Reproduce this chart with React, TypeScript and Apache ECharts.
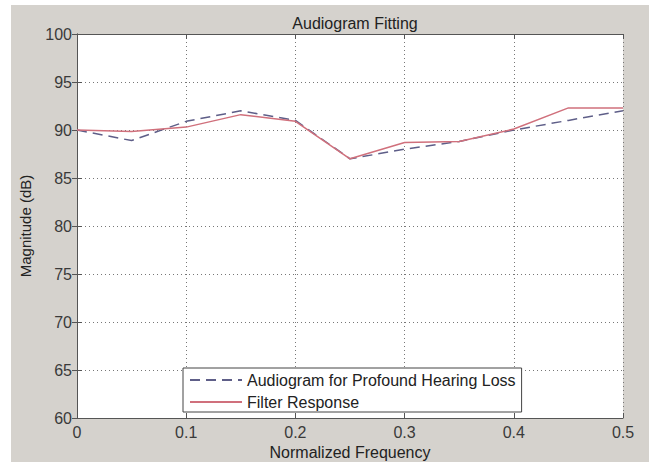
import React, { useEffect, useRef } from "react";
import * as echarts from "echarts";

const freq = [0, 0.05, 0.1, 0.15, 0.2, 0.25, 0.3, 0.35, 0.4, 0.45, 0.5];
const audiogram = [90, 88.9, 90.9, 92.0, 91.0, 87.0, 88.0, 88.8, 90.0, 91.0, 92.0];
const filterResp = [90, 89.85, 90.3, 91.6, 90.9, 87.0, 88.7, 88.8, 90.1, 92.3, 92.3];
const seriesNames = ["Audiogram for Profound Hearing Loss", "Filter Response"];

const FONT = "Liberation Sans";

export default function App() {
  const ref = useRef<HTMLDivElement>(null);
  useEffect(() => {
    if (!ref.current) return;
    const chart = echarts.init(ref.current, undefined, { renderer: "svg" });
    const axisColor = "#555555";
    const labelStyle = { color: "#3a3a3a", fontFamily: FONT, fontSize: 16 };
    const sideAxis = {
      show: true,
      axisLabel: { show: false },
      axisTick: { show: true, inside: true, length: 5, lineStyle: { color: axisColor } },
      axisLine: { show: true, lineStyle: { color: axisColor, width: 1 } },
      splitLine: { show: false },
    };
    chart.setOption({
      animation: false,
      backgroundColor: "#ffffff",
      graphic: [
        {
          type: "rect",
          left: 11,
          top: 5,
          shape: { width: 649 - 11, height: 462 - 5 },
          style: { fill: "#d5d2cd" },
          z: -10,
          silent: true,
        },
      ],
      title: {
        text: "Audiogram Fitting",
        left: 350,
        textAlign: "center",
        top: 10,
        textStyle: { color: "#222222", fontFamily: FONT, fontSize: 16, fontWeight: "normal" },
      },
      grid: {
        left: 77,
        right: 26,
        top: 34,
        bottom: 44,
        show: true,
        backgroundColor: "#ffffff",
        borderWidth: 0,
        containLabel: false,
        outerBoundsMode: "none",
      },
      legend: {
        orient: "vertical",
        left: 183,
        top: 368,
        data: seriesNames,
        backgroundColor: "#ffffff",
        borderColor: "#444444",
        borderWidth: 1,
        padding: [4, 6, 2, 6],
        itemWidth: 52,
        itemHeight: 16,
        itemGap: 6,
        itemStyle: { opacity: 0 },
        textStyle: { color: "#222222", fontFamily: FONT, fontSize: 16 },
      },
      xAxis: [
        {
          type: "value",
          min: 0,
          max: 0.5,
          interval: 0.1,
          name: "Normalized Frequency",
          nameLocation: "middle",
          nameGap: 25,
          nameTextStyle: { color: "#222222", fontFamily: FONT, fontSize: 16 },
          axisLabel: { ...labelStyle, margin: 6 },
          axisTick: { show: true, inside: true, length: 5, lineStyle: { color: axisColor } },
          axisLine: { show: true, onZero: false, lineStyle: { color: axisColor, width: 1 } },
          splitLine: { show: true, lineStyle: { color: "#777777", type: [1, 3], width: 1 } },
        },
        { type: "value", min: 0, max: 0.5, interval: 0.1, position: "top", ...sideAxis },
      ],
      yAxis: [
        {
          type: "value",
          min: 60,
          max: 100,
          interval: 5,
          name: "Magnitude (dB)",
          nameLocation: "middle",
          nameGap: 44,
          nameTextStyle: { color: "#222222", fontFamily: FONT, fontSize: 15 },
          axisLabel: { ...labelStyle, margin: 5 },
          axisTick: { show: true, inside: true, length: 5, lineStyle: { color: axisColor } },
          axisLine: { show: true, onZero: false, lineStyle: { color: axisColor, width: 1 } },
          splitLine: { show: true, lineStyle: { color: "#777777", type: [1, 3], width: 1 } },
        },
        { type: "value", min: 60, max: 100, interval: 5, position: "right", ...sideAxis },
      ],
      series: [
        {
          name: seriesNames[0],
          type: "line",
          xAxisIndex: 0,
          yAxisIndex: 0,
          data: freq.map((f, i) => [f, audiogram[i]]),
          symbol: "none",
          lineStyle: { color: "#5e5e88", width: 1.5, type: [10, 6] },
          itemStyle: { color: "#5e5e88" },
          z: 3,
        },
        {
          name: seriesNames[1],
          type: "line",
          xAxisIndex: 0,
          yAxisIndex: 0,
          data: freq.map((f, i) => [f, filterResp[i]]),
          symbol: "none",
          lineStyle: { color: "#d0707c", width: 1.5 },
          itemStyle: { color: "#d0707c" },
          z: 4,
        },
      ],
    });
    return () => chart.dispose();
  }, []);
  return (
    <div
      ref={ref}
      style={{ position: "fixed", left: 0, top: 0, width: 649, height: 462 }}
    />
  );
}
